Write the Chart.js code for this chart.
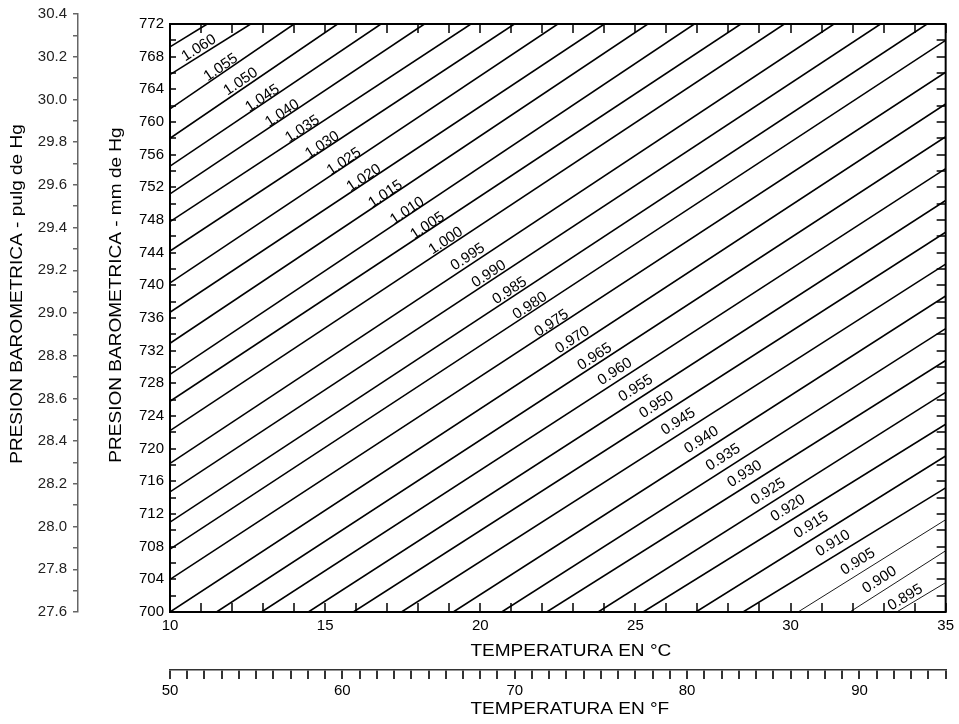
<!DOCTYPE html>
<html>
<head>
<meta charset="utf-8">
<script src="https://cdn.jsdelivr.net/npm/chart.js@4.4.1/dist/chart.umd.min.js"></script>
<style>
  html, body { margin: 0; padding: 0; background: #fff; }
  #wrap { width: 959px; height: 724px; }
</style>
</head>
<body>
<div id="wrap"><canvas id="chart" width="959" height="724"></canvas></div>
<script>
// Density factor lines (top-left line carries no label)
const lineLabels = ['', '1.060', '1.055', '1.050', '1.045', '1.040', '1.035', '1.030', '1.025', '1.020',
  '1.015', '1.010', '1.005', '1.000', '0.995', '0.990', '0.985', '0.980', '0.975', '0.970',
  '0.965', '0.960', '0.955', '0.950', '0.945', '0.940', '0.935', '0.930', '0.925', '0.920',
  '0.915', '0.910', '0.905', '0.900', '0.895'];

// Line start points (°C, mm Hg): left edge, then bottom edge
const startT = [10, 10, 10, 10, 10, 10, 10, 10, 10, 10, 10, 10, 10, 10, 10, 10, 10, 10, 10, 10,
  11.50, 12.95, 14.46, 15.91, 17.46, 19.13, 20.69, 22.14, 23.80, 25.25, 26.95, 28.47, 30.24, 31.91, 33.42];
const startP = [769.2, 765.8, 761.6, 758.0, 754.6, 751.2, 747.8, 744.2, 740.3, 736.7,
  732.9, 729.1, 725.8, 722.2, 718.2, 714.7, 711.0, 707.7, 704.0, 700.0,
  700, 700, 700, 700, 700, 700, 700, 700, 700, 700, 700, 700, 700, 700, 700];

// Line end points: top edge, then right edge
const endT = [11.2, 12.6, 14.0, 15.4, 16.8, 18.2, 19.7, 21.1, 22.5, 24.0, 25.4, 26.9, 28.4, 29.8, 31.4, 32.9, 34.4,
  35, 35, 35, 35, 35, 35, 35, 35, 35, 35, 35, 35, 35, 35, 35, 35, 35, 35];
const endP = [772, 772, 772, 772, 772, 772, 772, 772, 772, 772, 772, 772, 772, 772, 772, 772, 772,
  770.0, 766.1, 762.2, 758.2, 754.3, 750.4, 746.5, 742.6, 738.7, 734.7, 730.8, 726.9, 723.0, 719.1, 715.2, 711.3, 707.5, 703.6];

// Where each line label sits
const labelT = [null, 10.93, 11.64, 12.28, 12.98, 13.62, 14.27, 14.91, 15.61, 16.25, 16.95, 17.65, 18.30, 18.89,
  19.60, 20.28, 20.95, 21.60, 22.30, 22.97, 23.69, 24.34, 25.01, 25.68, 26.38, 27.13, 27.83, 28.52,
  29.28, 29.92, 30.67, 31.37, 32.17, 32.87, 33.70];
const labelP = [null, 769.06, 766.67, 764.93, 762.90, 761.06, 759.14, 757.18, 755.14, 753.14, 751.18, 749.13,
  747.29, 745.45, 743.47, 741.39, 739.33, 737.49, 735.35, 733.31, 731.26, 729.42, 727.39, 725.35,
  723.30, 721.06, 718.92, 716.90, 714.73, 712.70, 710.65, 708.41, 706.16, 703.92, 701.78];

// Axis ranges
const tempC = [10, 35];
const tempF = [50, 95];
const pressMM = [700, 772];
const pressIN = [27.6, 30.4];

const FONT = '"Liberation Sans", Arial, sans-serif';
Chart.defaults.font.family = FONT;
Chart.defaults.font.size = 15;
Chart.defaults.color = '#000';

const datasets = lineLabels.map((lab, i) => ({
  label: lab || '1.065',
  data: [{ x: startT[i], y: startP[i] }, { x: endT[i], y: endP[i] }],
  showLine: true,
  borderColor: '#000',
  borderWidth: i >= lineLabels.length - 3 ? 0.9 : 1.6,
  pointRadius: 0,
  fill: false,
  xAxisID: 'x',
  yAxisID: 'y'
}));

// stretched text like the original axis titles
function drawTitle(ctx, text, cx, cy, angle) {
  ctx.save();
  ctx.translate(cx, cy);
  ctx.rotate(angle);
  ctx.scale(1.19, 1);
  ctx.font = '16px ' + FONT;
  ctx.fillStyle = '#000';
  ctx.textAlign = 'center';
  ctx.textBaseline = 'middle';
  ctx.fillText(text, 0, 0);
  ctx.restore();
}

const inchAxisFix = {
  id: 'inchAxisFix',
  afterLayout(chart) {
    // inch scale runs a little above the plot frame
    const s = chart.scales.y2;
    s.top = chart.chartArea.top - 10;
    s.height = s.bottom - s.top;
    s.configure();
  }
};

const frameTicks = {
  id: 'frameTicks',
  afterDatasetsDraw(chart) {
    const { ctx, chartArea: a, scales: { x, y } } = chart;
    ctx.save();
    ctx.strokeStyle = '#000';
    ctx.lineWidth = 1.5;
    ctx.beginPath();
    x.ticks.forEach(t => {
      const px = Math.round(x.getPixelForValue(t.value));
      ctx.moveTo(px, a.bottom); ctx.lineTo(px, a.bottom - 9);
      ctx.moveTo(px, a.top); ctx.lineTo(px, a.top + 9);
    });
    y.ticks.forEach(t => {
      const py = Math.round(y.getPixelForValue(t.value));
      ctx.moveTo(a.left, py); ctx.lineTo(a.left + 6, py);
      ctx.moveTo(a.right, py); ctx.lineTo(a.right - 9, py);
    });
    ctx.stroke();
    ctx.lineWidth = 2;
    ctx.strokeRect(a.left, a.top, a.right - a.left, a.bottom - a.top);
    ctx.restore();
  }
};

const lineNames = {
  id: 'lineNames',
  afterDraw(chart) {
    const { ctx, chartArea: a, scales: { x, y } } = chart;
    ctx.save();
    ctx.font = '15px ' + FONT;
    ctx.fillStyle = '#000';
    ctx.textAlign = 'center';
    ctx.textBaseline = 'middle';
    lineLabels.forEach((lab, i) => {
      if (!lab) return;
      const x0 = x.getPixelForValue(startT[i]), y0 = y.getPixelForValue(startP[i]);
      const x1 = x.getPixelForValue(endT[i]), y1 = y.getPixelForValue(endP[i]);
      const ang = Math.atan2(y1 - y0, x1 - x0);
      ctx.save();
      ctx.translate(x.getPixelForValue(labelT[i]), y.getPixelForValue(labelP[i]));
      ctx.rotate(ang);
      ctx.fillText(lab, 0, 0);
      ctx.restore();
    });
    ctx.restore();

    const midX = (a.left + a.right) / 2;
    const midY = (a.top + a.bottom) / 2;
    drawTitle(ctx, 'TEMPERATURA EN °C', midX + 13, a.bottom + 40, 0);
    drawTitle(ctx, 'TEMPERATURA EN °F', midX + 12, a.bottom + 98, 0);
    drawTitle(ctx, 'PRESION BAROMETRICA - mm de Hg', a.left - 53, midY - 23, -Math.PI / 2);
    drawTitle(ctx, 'PRESION BAROMETRICA - pulg de Hg', a.left - 152, midY - 24, -Math.PI / 2);
  }
};

new Chart(document.getElementById('chart'), {
  type: 'scatter',
  data: { datasets },
  options: {
    responsive: false,
    animation: false,
    layout: { padding: { top: 24, right: 13, bottom: 0, left: 0 } },
    plugins: { legend: { display: false }, tooltip: { enabled: false } },
    scales: {
      x: {
        type: 'linear', position: 'bottom', min: tempC[0], max: tempC[1],
        afterFit: s => { s.height = 58; },
        ticks: { stepSize: 1, autoSkip: false, maxRotation: 0, padding: 5,
          callback: v => (v % 5 === 0 ? v : '') },
        grid: { display: false, drawTicks: false },
        border: { display: false }
      },
      x2: {
        type: 'linear', position: 'bottom', min: tempF[0], max: tempF[1],
        afterFit: s => { s.height = 54; },
        ticks: { stepSize: 1, autoSkip: false, maxRotation: 0, padding: 3,
          callback: v => (v % 10 === 0 && v < 95 ? v : '') },
        grid: { drawOnChartArea: false, tickLength: 9, color: '#333', lineWidth: 2 },
        border: { color: '#333', width: 1.5 }
      },
      y: {
        type: 'linear', position: 'left', min: pressMM[0], max: pressMM[1],
        afterFit: s => { s.width = 92; },
        ticks: { stepSize: 2, autoSkip: false, padding: 6,
          callback: v => (v % 4 === 0 ? v : '') },
        grid: { display: false, drawTicks: false },
        border: { display: false }
      },
      y2: {
        type: 'linear', position: 'left', min: pressIN[0], max: pressIN[1],
        afterFit: s => { s.width = 78; },
        ticks: { stepSize: 0.1, autoSkip: false, padding: 6, color: '#222',
          callback: v => (Math.round(v * 10) % 2 === 0 ? v.toFixed(1) : '') },
        grid: { drawOnChartArea: false, tickLength: 5, color: '#666', lineWidth: 1.5 },
        border: { color: '#666', width: 1.5 }
      }
    }
  },
  plugins: [inchAxisFix, frameTicks, lineNames]
});
</script>
</body>
</html>
